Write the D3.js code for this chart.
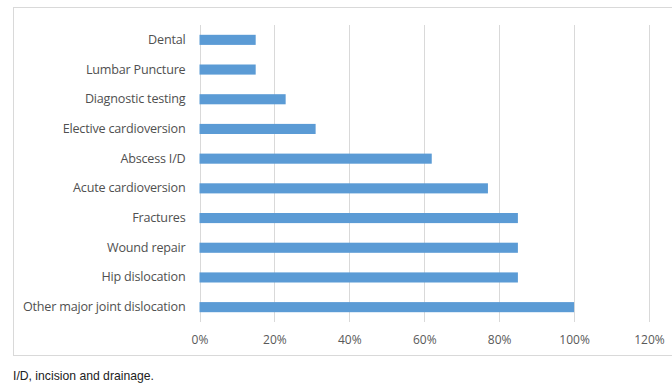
<!DOCTYPE html>
<html>
<head>
<meta charset="utf-8">
<script src="https://cdn.jsdelivr.net/npm/d3@7/dist/d3.min.js"></script>
<style>
  html, body { margin: 0; padding: 0; background: #fff; }
  svg { display: block; }
</style>
</head>
<body>
<svg id="chart" width="672" height="385"></svg>
<script>
// Procedures, listed top to bottom
const categories = [
  "Dental",
  "Lumbar Puncture",
  "Diagnostic testing",
  "Elective cardioversion",
  "Abscess I/D",
  "Acute cardioversion",
  "Fractures",
  "Wound repair",
  "Hip dislocation",
  "Other major joint dislocation"
];
// Share of each procedure (percent)
const values = [15, 15, 23, 31, 62, 77, 85, 85, 85, 100];
// Axis ticks (percent)
const tickValues = [0, 20, 40, 60, 80, 100, 120];
const footnote = "I/D, incision and drainage.";

const svg = d3.select("#chart");

// Chart frame
svg.append("rect")
  .attr("x", 13.5).attr("y", 7.5)
  .attr("width", 700).attr("height", 348)
  .attr("fill", "#fff")
  .attr("stroke", "#d9d9d9")
  .attr("stroke-width", 1);

const plot = { left: 199.5, right: 649, top: 25, bottom: 322 };

const x = d3.scaleLinear().domain([0, 120]).range([plot.left, plot.right]);
const y = d3.scaleBand().domain(categories).range([plot.top, plot.bottom]).paddingInner(0.66).paddingOuter(0.33);

// Vertical gridlines
svg.append("g")
  .selectAll("line")
  .data(tickValues)
  .join("line")
  .attr("x1", d => Math.round(x(d)) + 0.5)
  .attr("x2", d => Math.round(x(d)) + 0.5)
  .attr("y1", plot.top)
  .attr("y2", plot.bottom)
  .attr("stroke", "#d9d9d9")
  .attr("stroke-width", 1);

// Bars
svg.append("g")
  .selectAll("rect")
  .data(values)
  .join("rect")
  .attr("x", x(0))
  .attr("y", (d, i) => y(categories[i]))
  .attr("width", d => x(d) - x(0))
  .attr("height", y.bandwidth())
  .attr("fill", "#5b9bd5");

const labelFont = "'Open Sans', 'DejaVu Sans', sans-serif";

// Category axis
const yAxis = d3.axisLeft(y).tickSize(0).tickPadding(14);
const gy = svg.append("g").attr("transform", `translate(${plot.left},0)`).call(yAxis);
gy.select(".domain").remove();
gy.selectAll("text")
  .attr("fill", "#505050")
  .style("font-family", labelFont)
  .style("font-size", "12.6px")
  .style("letter-spacing", "-0.2px");

// Value axis
const xAxis = d3.axisBottom(x).tickValues(tickValues).tickSize(0).tickPadding(13)
  .tickFormat(d => d + "%");
const gx = svg.append("g").attr("transform", `translate(0,${plot.bottom})`).call(xAxis);
gx.select(".domain").remove();
gx.selectAll("text")
  .attr("fill", "#595959")
  .style("font-family", labelFont)
  .style("font-size", "12px");

// Footnote below the frame
svg.append("text")
  .attr("x", 13)
  .attr("y", 380)
  .attr("fill", "#222")
  .style("font-family", "'Liberation Sans', Arial, sans-serif")
  .style("font-size", "12.2px")
  .text(footnote);
</script>
</body>
</html>
